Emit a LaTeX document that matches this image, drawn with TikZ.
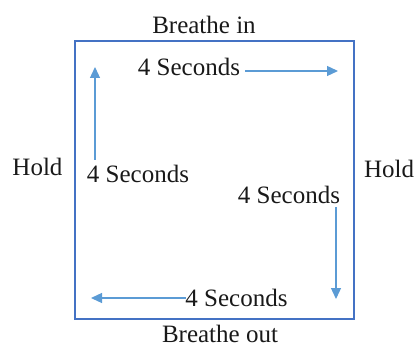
\documentclass[tikz,border=0pt]{standalone}
\usepackage{fontspec}
\setmainfont{Liberation Serif}
\usetikzlibrary{arrows.meta}
\definecolor{boxblue}{HTML}{4472C4}
\definecolor{arrowblue}{HTML}{5B9BD5}
\begin{document}
\begin{tikzpicture}[x=1pt,y=-1pt,
  lbl/.style={font=\fontsize{25}{29}\selectfont, inner sep=0pt, anchor=base, text=black!90},
  flow/.style={draw=arrowblue, line width=1.3pt, -{Triangle[length=11pt,width=10pt]}, color=arrowblue},
  frame/.style={draw=boxblue, line width=1.8pt}]
\useasboundingbox (0,0) rectangle (417,347);
\node[frame, minimum width=279pt, minimum height=278pt, inner sep=0pt] (box) at (214.5,180) {};
\node[lbl] (bin) at (204,34) {Breathe in};
\node[lbl] (bout) at (220,342) {Breathe out};
\node[lbl] (holdl) at (37.5,176) {Hold};
\node[lbl] (holdr) at (389,178) {Hold};
\node[lbl] (top) at (189,76) {4 Seconds};
\node[lbl] (left) at (138,183) {4 Seconds};
\node[lbl] (right) at (289,204) {4 Seconds};
\node[lbl] (bottom) at (236.5,306) {4 Seconds};
\coordinate (ta) at (245,71);
\coordinate (tb) at (338,71);
\coordinate (la) at (95,160);
\coordinate (lb) at (95,67);
\coordinate (ra) at (336,207);
\coordinate (rb) at (336,299);
\coordinate (ba) at (186,298);
\coordinate (bb) at (91,298);
\draw[flow] (ta) -- (tb);
\draw[flow] (la) -- (lb);
\draw[flow] (ra) -- (rb);
\draw[flow] (ba) -- (bb);
\end{tikzpicture}
\end{document}
